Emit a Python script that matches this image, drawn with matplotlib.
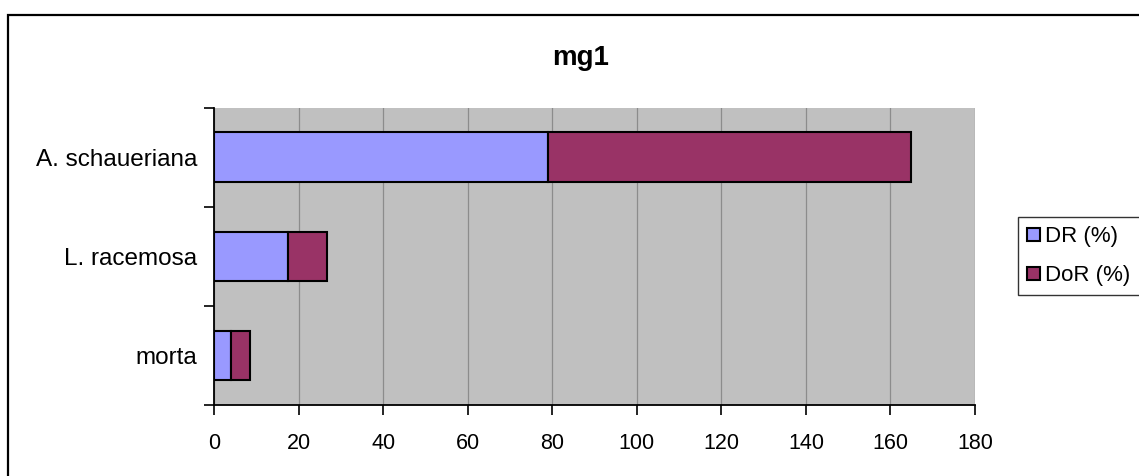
import numpy as np
import matplotlib
matplotlib.use("Agg")
import matplotlib.pyplot as plt
from matplotlib.patches import Rectangle
from matplotlib.ticker import MultipleLocator, FixedLocator

plt.rcParams['font.family'] = ['Liberation Sans', 'DejaVu Sans']

# species from bottom to top
species = ['morta', 'L. racemosa', 'A. schaueriana']
dr = [4.0, 17.5, 78.9]
dor = [4.6, 9.3, 85.9]
series_names = ['DR (%)', 'DoR (%)']

W, H = 1139, 476
fig = plt.figure(figsize=(W / 100, H / 100), dpi=100)
fig.patch.set_facecolor('white')

# outer chart border
fig.patches.append(Rectangle((8 / W, -0.1), 1.2, 1.1 - 15 / H,
                             transform=fig.transFigure, fill=False,
                             edgecolor='black', linewidth=1.6, zorder=0))

ax = fig.add_axes([214 / W, (H - 405) / H, (975 - 214) / W, (405 - 107.7) / H])
ax.set_facecolor('#C0C0C0')

y = np.arange(len(species))
ax.barh(y, dr, height=0.5, color='#9999FF', edgecolor='black', linewidth=1.5,
        label=series_names[0], zorder=3)
ax.barh(y, dor, left=dr, height=0.5, color='#993366', edgecolor='black',
        linewidth=1.5, label=series_names[1], zorder=3)

ax.set_xlim(0, 180)
ax.set_ylim(-0.5, len(species) - 0.5)
ax.xaxis.set_major_locator(MultipleLocator(20))
ax.grid(axis='x', color='#8C8C8C', linewidth=0.9, zorder=1)

ax.set_yticks(y)
ax.set_yticklabels(species)
ax.yaxis.set_minor_locator(FixedLocator(np.arange(len(species) + 1) - 0.5))
ax.tick_params(axis='y', which='major', length=0, pad=12, labelsize=17.5)
ax.tick_params(axis='y', which='minor', length=7, width=1.2, direction='out')
ax.tick_params(axis='x', length=7, width=1.2, direction='out', pad=13, labelsize=15.5)

for side in ['top', 'right']:
    ax.spines[side].set_visible(False)
for side in ['left', 'bottom']:
    ax.spines[side].set_color('black')
    ax.spines[side].set_linewidth(1.3)

fig.text(581 / W, 1 - 58 / H, 'mg1', ha='center', va='center',
         fontsize=20, fontweight='bold')

handles, labels = ax.get_legend_handles_labels()
leg = fig.legend(handles, labels, loc='upper left',
                 bbox_to_anchor=(1018 / W, 1 - 217 / H),
                 fontsize=16, frameon=True, fancybox=False,
                 edgecolor='black', handlelength=0.55, handleheight=0.55,
                 handletextpad=0.25, borderpad=0.42, labelspacing=0.8,
                 borderaxespad=0)
leg.get_frame().set_linewidth(1.0)

fig.savefig('out.png', dpi=100)
